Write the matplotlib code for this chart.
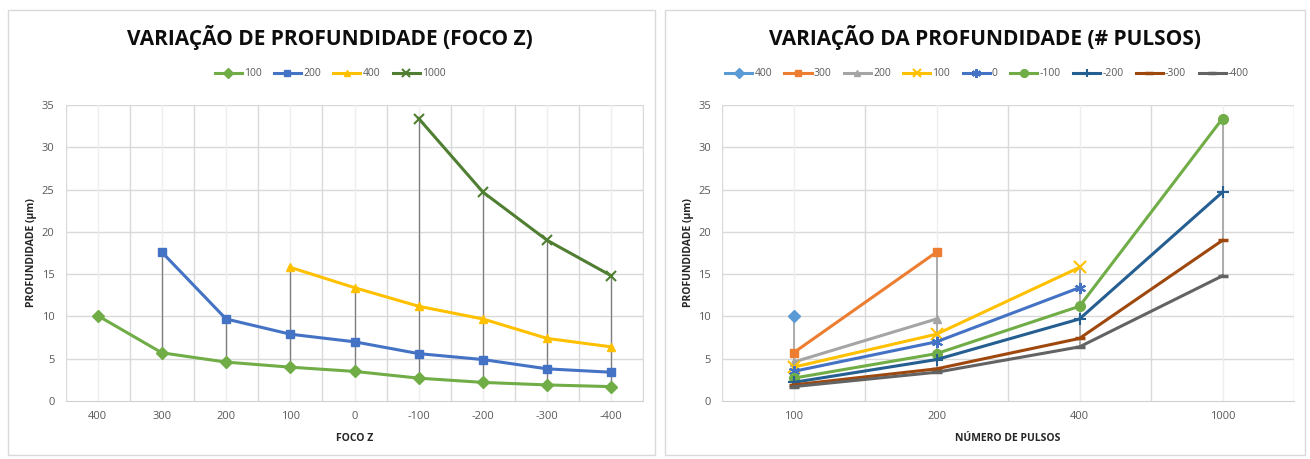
import numpy as np
import matplotlib
matplotlib.use("Agg")
import matplotlib.pyplot as plt
from matplotlib.patches import Rectangle

plt.rcParams['font.family'] = ['Open Sans', 'DejaVu Sans']

# ---------------- data ----------------
foco_labels = ["400", "300", "200", "100", "0", "-100", "-200", "-300", "-400"]
pulsos_labels = ["100", "200", "400", "1000"]
nan = np.nan
p100 = [10.1, 5.7, 4.6, 4.0, 3.5, 2.7, 2.2, 1.9, 1.7]
p200 = [nan, 17.6, 9.7, 7.9, 7.0, 5.6, 4.9, 3.8, 3.4]
p400 = [nan, nan, nan, 15.8, 13.4, 11.2, 9.7, 7.4, 6.4]
p1000 = [nan, nan, nan, nan, nan, 33.4, 24.7, 19.0, 14.8]

left_series = ["100", "200", "400", "1000"]
left_colors = ["#70AD47", "#4472C4", "#FFC000", "#507E32"]
left_markers = ["D", "s", "^", "x"]

right_colors = ["#5B9BD5", "#ED7D31", "#A5A5A5", "#FFC000", "#4472C4",
                "#70AD47", "#255E91", "#9E480E", "#636363"]
right_markers = ["D", "s", "^", "x", (6, 2, 0), "o", "+", "_", "_"]

W, H = 1310, 459
fig = plt.figure(figsize=(W / 100, H / 100), dpi=100)

def fx(px):
    return px / W

def fy(py):
    return 1 - py / H

# panel borders
for (x0, x1) in [(8, 655), (665, 1305)]:
    fig.patches.append(Rectangle((fx(x0), fy(455)), fx(x1 - x0), (455 - 10) / H,
                                 transform=fig.transFigure, fill=False,
                                 edgecolor="#d9d9d9", linewidth=1.0))

tick_color = "#595959"
grid_major = "#d9d9d9"
grid_minor = "#eeeeee"

def style_axes(ax, ncat, labels, xlabel):
    ax.set_xlim(-0.5, ncat - 0.5)
    ax.set_ylim(0, 35)
    ax.set_yticks(np.arange(0, 36, 5))
    ax.set_xticks(np.arange(ncat))
    ax.set_xticklabels(labels)
    for s in ["top", "right", "left"]:
        ax.spines[s].set_visible(False)
    ax.spines["bottom"].set_color("#d0d0d0")
    ax.tick_params(axis="both", which="both", length=0, colors=tick_color, labelsize=8)
    ax.tick_params(axis="x", pad=7)
    ax.tick_params(axis="y", pad=8)
    ax.grid(False)
    for y in np.arange(5, 36, 5):
        ax.axhline(y, color=grid_major, lw=1.0, zorder=0)
    for xb in np.arange(-0.5, ncat, 1.0):
        ax.axvline(xb, color=grid_major, lw=1.0, zorder=0)
    for xc in np.arange(ncat):
        ax.axvline(xc, color=grid_minor, lw=1.0, zorder=0)
    ax.set_ylabel("PROFUNDIDADE (µm)", fontsize=7.5, fontweight="bold", color="#262626", labelpad=3)
    ax.set_xlabel(xlabel, fontsize=7.5, fontweight="bold", color="#262626", labelpad=8)

# ---------------- left chart ----------------
axL = fig.add_axes([fx(65.5), fy(401), fx(643.5 - 65.5), (401 - 105) / H])
left_data = np.array([p100, p200, p400, p1000])
xl = np.arange(len(foco_labels))
lo = np.nanmin(left_data, axis=0)
hi = np.nanmax(left_data, axis=0)
mask = np.sum(~np.isnan(left_data), axis=0) > 1
axL.vlines(xl[mask], lo[mask], hi[mask], color="#7f7f7f", lw=1.0, zorder=2)
for name, vals, c, m in zip(left_series, left_data, left_colors, left_markers):
    ms = 6 if m != "x" else 7
    axL.plot(xl, vals, color=c, lw=2.2, marker=m, markersize=ms,
             markeredgewidth=1.5 if m == "x" else 1.0, label=name, zorder=3)
style_axes(axL, len(foco_labels), foco_labels, "FOCO Z")
fig.text(fx(330), fy(37), "VARIAÇÃO DE PROFUNDIDADE (FOCO Z)", ha="center", va="center",
         fontsize=15, fontweight="bold", color="#0d0d0d")
legL = fig.legend(*axL.get_legend_handles_labels(), loc="center", bbox_to_anchor=(fx(330), fy(74)),
                  ncol=4, frameon=False, fontsize=7.5, handlelength=2.6, columnspacing=1.2,
                  handletextpad=0.2, markerscale=0.8)
for t in legL.get_texts():
    t.set_color(tick_color)

# ---------------- right chart ----------------
axR = fig.add_axes([fx(722), fy(401), fx(1294 - 722), (401 - 105) / H])
right_data = left_data.T  # rows: foco, cols: pulsos
xr = np.arange(len(pulsos_labels))
lo = np.nanmin(right_data, axis=0)
hi = np.nanmax(right_data, axis=0)
axR.vlines(xr, lo, hi, color="#a6a6a6", lw=1.3, zorder=2)
for name, vals, c, m in zip(foco_labels, right_data, right_colors, right_markers):
    if m == "_":
        ms, mew = 7, 2.5
    elif m == "+" or m == "x" or isinstance(m, tuple):
        ms, mew = 8, 1.5
    elif m == "o":
        ms, mew = 7, 1.0
    else:
        ms, mew = 6, 1.0
    axR.plot(xr, vals, color=c, lw=2.2, marker=m, markersize=ms, markeredgewidth=mew,
             label=name, zorder=3)
style_axes(axR, len(pulsos_labels), pulsos_labels, "NÚMERO DE PULSOS")
fig.text(fx(985), fy(37), "VARIAÇÃO DA PROFUNDIDADE (# PULSOS)", ha="center", va="center",
         fontsize=15, fontweight="bold", color="#0d0d0d")
legR = fig.legend(*axR.get_legend_handles_labels(), loc="center", bbox_to_anchor=(fx(987), fy(74)),
                  ncol=9, frameon=False, fontsize=7.5, handlelength=2.6, columnspacing=1.2,
                  handletextpad=0.2, markerscale=0.8)
for t in legR.get_texts():
    t.set_color(tick_color)

fig.savefig("out.png", dpi=100)
